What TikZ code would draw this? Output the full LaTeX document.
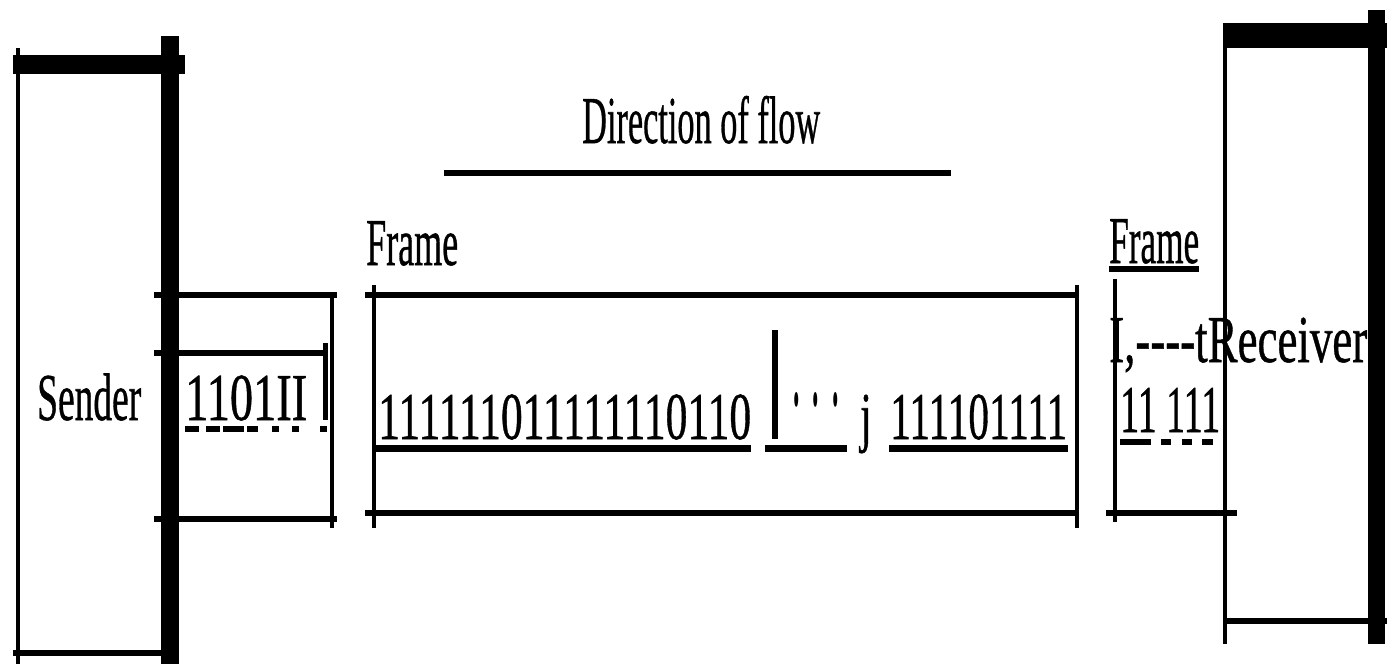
\documentclass[tikz,border=0pt]{standalone}
\usepackage{fontspec}
\setmainfont{Liberation Serif}
\usepackage{graphicx}
% set a label at its natural height, squeezed to a given width
\newcommand{\squeeze}[2]{\resizebox{#1}{\height}{#2}}
\begin{document}
\begin{tikzpicture}[x=1pt,y=-1pt,
  lbl/.style={inner sep=0pt, anchor=base west,
    font=\fontsize{67}{72}\selectfont\addfontfeatures{FakeBold=0.8}},
  glyph/.style={inner sep=0pt, anchor=south west},
  hrule/.style={line width=6pt},
  vrule/.style={line width=4pt},
  uline/.style={line width=7pt},
  bar/.style={fill=black}]
\useasboundingbox (0,0) rectangle (1387,664);

% ---- texts ----
\node[lbl] (dir) at (582,143) {\squeeze{238pt}{Direction of flow}};
\node[lbl] (frameL) at (366,265) {\squeeze{92pt}{Frame}};
\node[lbl] (sender) at (37,420) {\squeeze{104pt}{Sender}};
\node[lbl] (bitsS) at (185,420) {\squeeze{122pt}{1101II}};
\node[glyph] (barS) at (323,420) {\rule{5pt}{77pt}};
\node[lbl] (bitsA) at (378,439) {\squeeze{373pt}{111111011111110110}};
\node[glyph] (barM) at (772,439) {\rule{6pt}{109pt}};
\node[glyph, font=\fontsize{67}{72}\selectfont] (dots) at (792,407)
  {\resizebox{48pt}{13pt}{. . .}};
\node[lbl] (jay) at (860,439) {\scalebox{0.62}[1]{j}};
\node[lbl] (bitsB) at (890,439) {\squeeze{177pt}{111101111}};
\node[lbl] (frameR) at (1109,263) {\squeeze{90pt}{Frame}};
\node[lbl] (recv) at (1109,362) {\squeeze{258pt}{I,{-}{-}{-}{-}tReceiver}};
\node[lbl] (bitsR) at (1120,432) {\squeeze{100pt}{11 111}};

% ---- sender block ----
\fill[bar] (13,55) rectangle (185,74);
\fill[bar] (161,36) rectangle (179,664);
\draw[vrule] (18,48) -- (18,664);
\draw[hrule] (13,653) -- (161,653);

% ---- frame leaving the sender ----
\draw[hrule] (154,295) -- (337,295);
\draw[hrule] (154,352.5) -- (327,352.5);
\draw[hrule] (154,519) -- (337,519);
\draw[vrule] (332,292) -- (332,528);
\foreach \a/\b in {185/199,206/220,223/244,247/258,272/279,292/299,320/327}
  \draw[hrule] (\a,429) -- (\b,429);

% ---- direction arrow shaft ----
\draw[hrule] (444,173) -- (951,173);

% ---- frame in transit ----
\draw[vrule] (373.5,285) -- (373.5,528);
\draw[vrule] (1076.5,285) -- (1076.5,528);
\draw[hrule] (365,295) -- (1078,295);
\draw[hrule] (365,512.5) -- (1078,512.5);
\draw[uline] (375,448.5) -- (751,448.5);
\draw[uline] (765,448.5) -- (847,448.5);
\draw[uline] (889,448.5) -- (1068,448.5);

% ---- frame arriving at the receiver ----
\draw[hrule] (1109,269) -- (1199,269);
\draw[vrule] (1114.5,279) -- (1114.5,522);
\draw[hrule] (1106,512.5) -- (1237,512.5);
\foreach \a/\b in {1120/1151,1161/1171,1182/1192,1202/1213}
  \draw[hrule] (\a,442) -- (\b,442);

% ---- receiver block ----
\fill[bar] (1223,23) rectangle (1387,48);
\fill[bar] (1368,10) rectangle (1385,644);
\draw[vrule] (1225,23) -- (1225,644);
\draw[hrule] (1223,621) -- (1387,621);
\end{tikzpicture}
\end{document}
